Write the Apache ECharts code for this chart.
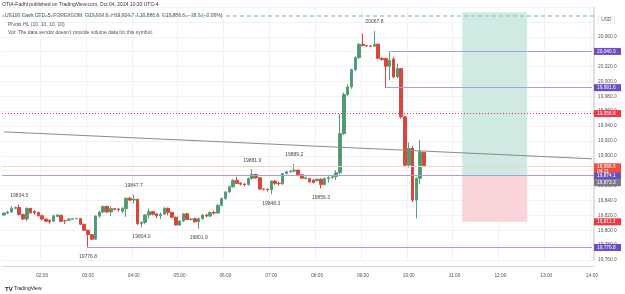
<!DOCTYPE html>
<html>
<head>
<meta charset="utf-8">
<script src="https://cdn.jsdelivr.net/npm/echarts@6/dist/echarts.min.js"></script>
<style>
  html, body { margin: 0; padding: 0; background: #fff; }
  #chart { width: 625px; height: 294px; }
</style>
</head>
<body>
<div id="chart"></div>
<script>
// 5-minute categories, 01:10 .. 14:00
const times = [];
for (let m = 70; m <= 840; m += 5) {
  times.push(String(Math.floor(m / 60)).padStart(2, '0') + ':' + String(m % 60).padStart(2, '0'));
}

// candles from 01:10, [open, close, low, high]
const candles = [
  [19820.5, 19823.0, 19819.0, 19824.5], [19823.0, 19824.5, 19822.0, 19826.0], [19824.5, 19829.5, 19823.5, 19832.0],
  [19829.5, 19830.5, 19828.0, 19832.0], [19830.5, 19821.0, 19820.0, 19834.5], [19821.0, 19815.0, 19814.0, 19822.0],
  [19815.0, 19829.5, 19812.0, 19830.5], [19829.5, 19823.5, 19822.0, 19830.0], [19825.5, 19823.5, 19821.0, 19826.5],
  [19824.0, 19819.5, 19818.0, 19825.0], [19819.5, 19815.0, 19813.0, 19821.0], [19815.0, 19812.0, 19811.0, 19816.0],
  [19813.5, 19811.5, 19809.0, 19814.5], [19812.0, 19819.5, 19811.0, 19820.5], [19818.5, 19820.5, 19817.5, 19822.0],
  [19820.0, 19812.0, 19811.0, 19821.0], [19813.0, 19812.8, 19808.5, 19814.0], [19813.5, 19815.0, 19812.0, 19816.0],
  [19815.0, 19815.5, 19814.0, 19816.5], [19815.5, 19815.8, 19814.5, 19816.5], [19815.5, 19808.0, 19807.0, 19816.5],
  [19808.0, 19800.0, 19799.0, 19808.5], [19800.0, 19794.0, 19776.8, 19801.0], [19794.0, 19788.0, 19787.0, 19795.0],
  [19788.0, 19819.0, 19787.0, 19820.0], [19819.0, 19824.5, 19817.0, 19826.0], [19824.5, 19832.0, 19823.0, 19833.0],
  [19832.0, 19824.5, 19823.0, 19833.0], [19824.5, 19829.0, 19819.0, 19832.0], [19829.0, 19828.0, 19826.5, 19830.0],
  [19828.5, 19827.5, 19825.0, 19829.5], [19825.5, 19829.5, 19823.0, 19831.0], [19829.0, 19843.0, 19818.0, 19844.0],
  [19843.0, 19840.5, 19839.0, 19845.0], [19840.5, 19841.5, 19836.0, 19847.7], [19841.5, 19808.8, 19807.0, 19842.5],
  [19808.8, 19810.5, 19804.0, 19812.0], [19810.5, 19820.5, 19808.0, 19821.5], [19820.5, 19825.0, 19816.0, 19829.0],
  [19825.0, 19821.5, 19820.0, 19826.0], [19822.0, 19819.5, 19816.0, 19823.0], [19819.5, 19821.5, 19815.0, 19824.0],
  [19821.5, 19829.5, 19821.0, 19831.0], [19829.5, 19824.0, 19820.0, 19830.5], [19824.0, 19817.5, 19816.0, 19825.0],
  [19817.5, 19807.0, 19806.0, 19818.5], [19807.0, 19812.5, 19805.5, 19813.0], [19812.5, 19822.0, 19811.0, 19823.0],
  [19822.0, 19814.5, 19813.5, 19823.5], [19814.5, 19815.2, 19813.0, 19816.0], [19815.5, 19811.5, 19810.0, 19817.0],
  [19811.5, 19815.5, 19801.9, 19817.0], [19815.5, 19820.5, 19814.0, 19821.5], [19820.5, 19819.0, 19817.5, 19822.0],
  [19819.0, 19824.0, 19817.5, 19825.5], [19824.0, 19823.0, 19821.0, 19826.5], [19823.0, 19833.5, 19822.0, 19835.0],
  [19833.5, 19842.5, 19832.0, 19844.0], [19842.5, 19851.5, 19841.0, 19852.5], [19851.5, 19858.5, 19850.0, 19860.0],
  [19858.5, 19867.0, 19857.0, 19869.0], [19867.0, 19863.0, 19862.0, 19872.0], [19863.5, 19862.0, 19860.0, 19864.5],
  [19862.0, 19861.5, 19859.0, 19863.0], [19861.5, 19869.5, 19860.0, 19871.0], [19869.5, 19875.0, 19868.0, 19881.9],
  [19875.0, 19870.5, 19869.0, 19876.0], [19870.5, 19855.3, 19854.0, 19871.5], [19855.3, 19855.0, 19853.5, 19856.0],
  [19855.0, 19854.5, 19852.0, 19856.0], [19854.5, 19866.0, 19848.3, 19867.0], [19866.0, 19863.0, 19861.0, 19867.5],
  [19863.0, 19862.5, 19860.0, 19865.0], [19862.5, 19876.3, 19861.0, 19877.0], [19876.3, 19878.5, 19875.0, 19880.0],
  [19878.5, 19879.4, 19877.5, 19881.0], [19879.4, 19880.8, 19878.0, 19889.2], [19880.8, 19874.5, 19873.5, 19881.5],
  [19874.5, 19870.0, 19869.0, 19875.5], [19869.6, 19871.0, 19868.0, 19872.0], [19869.5, 19865.0, 19864.0, 19870.5],
  [19867.4, 19864.2, 19863.0, 19868.5], [19866.5, 19868.7, 19865.5, 19869.5], [19868.7, 19861.5, 19856.3, 19869.5],
  [19861.5, 19869.5, 19860.0, 19871.0], [19869.5, 19871.0, 19864.0, 19872.5], [19871.0, 19872.0, 19869.0, 19873.5],
  [19872.0, 19877.2, 19867.4, 19880.8], [19877.2, 19930.0, 19875.0, 19956.0], [19930.0, 19982.3, 19928.0, 19985.0],
  [19982.3, 19992.6, 19980.0, 19996.0], [19992.6, 20015.9, 19990.0, 20017.0], [20015.9, 20032.0, 20014.0, 20034.0],
  [20032.0, 20050.0, 20030.0, 20051.5], [20050.0, 20048.2, 20047.0, 20064.5], [20048.2, 20047.6, 20046.5, 20049.0],
  [20047.6, 20047.4, 20046.5, 20048.5], [20047.4, 20050.0, 20046.0, 20067.8], [20050.0, 20031.0, 20030.0, 20051.0],
  [20031.0, 20029.3, 20028.0, 20032.5], [20031.0, 20020.5, 19991.6, 20031.5], [20020.5, 20028.4, 20001.6, 20040.3],
  [20030.0, 20006.0, 20004.0, 20033.0], [20006.0, 20017.2, 20004.0, 20024.0], [20017.2, 19952.4, 19950.0, 20018.0],
  [19952.4, 19887.5, 19885.0, 19954.0], [19887.5, 19910.0, 19884.0, 19918.0], [19910.0, 19840.5, 19838.0, 19913.0],
  [19840.5, 19869.6, 19815.9, 19871.0], [19869.6, 19905.4, 19862.0, 19921.0], [19904.6, 19886.6, 19886.6, 19904.7]
];

// Pivots HL labels
const pivotTimes = ['01:30', '04:00', '04:10', '05:25', '06:35', '07:00', '07:30', '08:05', '09:15', '03:00'];
const pivotValues = [19834.5, 19847.7, 19804.0, 19801.9, 19881.9, 19848.3, 19889.2, 19856.3, 20067.8, 19776.8];
const pivotSides = ['high', 'high', 'low', 'low', 'high', 'low', 'high', 'low', 'high', 'low'];

// drawn levels
const entryPrice = 19874.1;
const stopPrice = 19811.3;
const targetPrice = 20093;
const positionTimes = ['11:10', '12:35'];
const rayLevels = [20040.3, 19991.6, 19776.8];
const rayStarts = ['09:35', '09:30', '03:00'];
const alertPrice = 19956.8;
const lastPrice = 19886.6;
const targetDashPrice = 20088;
const trendTimes = ['01:10', '14:00'];
const trendValues = [19932.2, 19896.0];

// price scale tags
const tagValues = [20040.3, 19991.6, 19956.8, 19886.6, 19874.1, 19873.3, 19811.3, 19776.8];
const tagTexts = ['20,040.3', '19,991.6', '19,956.8', '19,886.6\n04:21', '19,874.1', '19,873.3', '19,811.3', '19,776.8'];
const tagColors = ['#6a4fc3', '#6a4fc3', '#f23645', '#ec4f3f', '#6a4fc3', '#787b86', '#f23645', '#6a4fc3'];
const tagNudge = [0, 0, 0, 2, 1, 7, 0, 0];

const FONT = 'Liberation Sans';
const hourTick = (i, v) => v.endsWith(':00');
const purple = '#a99de0';

const chart = echarts.init(document.getElementById('chart'));

chart.setOption({
  animation: false,
  backgroundColor: '#fff',
  textStyle: { fontFamily: FONT },
  grid: { left: 2, right: 31, top: 7, bottom: 34 },
  xAxis: {
    type: 'category',
    data: times,
    boundaryGap: true,
    offset: 6,
    axisLine: { lineStyle: { color: '#d6d8de' } },
    axisTick: { show: false },
    axisLabel: { interval: hourTick, color: '#555', fontSize: 4.8, margin: 7, fontFamily: FONT },
    splitLine: { show: true, interval: hourTick, lineStyle: { color: '#f1f2f5' } }
  },
  yAxis: {
    type: 'value',
    position: 'right',
    min: 19760,
    max: 20100,
    interval: 20,
    axisLine: { show: true, lineStyle: { color: '#d6d8de', width: 1.5 } },
    axisTick: { show: false },
    axisLabel: {
      color: '#555', fontSize: 4.8, margin: 4, fontFamily: FONT,
      formatter: v => v >= 20080 ? '' : v.toLocaleString('en-US', { minimumFractionDigits: 1, maximumFractionDigits: 1 })
    },
    splitLine: { lineStyle: { color: '#f1f2f5' } }
  },
  series: [{
    type: 'candlestick',
    data: candles,
    barWidth: 3,
    itemStyle: {
      color: '#4d9a6f', color0: '#d9473a',
      borderColor: '#5a9f78', borderColor0: '#d9473a', borderWidth: 1
    },
    markArea: {
      silent: true,
      data: [
        [{ xAxis: positionTimes[0], yAxis: entryPrice, itemStyle: { color: '#cfe9e3' } },
         { xAxis: positionTimes[1], yAxis: targetPrice }],
        [{ xAxis: positionTimes[0], yAxis: stopPrice, itemStyle: { color: '#f9d5d9' } },
         { xAxis: positionTimes[1], yAxis: entryPrice }]
      ]
    },
    markLine: {
      silent: true,
      symbol: ['none', 'none'],
      label: { show: false },
      data: [
        { yAxis: targetDashPrice, lineStyle: { color: '#93d2c6', type: [4, 3], width: 1.5 } },
        { yAxis: lastPrice, lineStyle: { color: '#f6cfcf', type: 'solid', width: 1 } },
        { yAxis: alertPrice, lineStyle: { color: '#f23645', type: [1, 2], width: 1 } },
        { yAxis: entryPrice, lineStyle: { color: purple, type: 'solid', width: 1 } },
        [{ coord: [trendTimes[0], trendValues[0]], lineStyle: { color: '#8a8a8f', type: 'solid', width: 1 } },
         { coord: [trendTimes[1], trendValues[1]] }],
        ...rayLevels.map((v, k) => [
          { coord: [rayStarts[k], v], lineStyle: { color: purple, type: 'solid', width: 1 } },
          { coord: ['14:00', v] }
        ])
      ]
    },
    markPoint: {
      silent: true,
      symbol: 'circle',
      symbolSize: 1,
      itemStyle: { color: 'rgba(0,0,0,0)' },
      data: pivotTimes.map((t, k) => ({
        coord: [t, pivotValues[k]],
        value: pivotValues[k].toFixed(1),
        label: {
          show: true,
          position: pivotSides[k] === 'high' ? 'top' : 'bottom',
          distance: 6,
          color: '#4a4a4a',
          fontSize: 5,
          fontFamily: FONT,
          formatter: p => p.value
        }
      }))
    }
  }]
});

// header, logo and price-scale tags
const graphics = [
  { type: 'text', left: 2, top: 2, style: { text: 'OTIA-Fadhl published on TradingView.com, Oct 04, 2024 10:20 UTC-4', fill: '#333', font: '5px ' + FONT } },
  { type: 'text', left: 3, top: 13, style: { text: 'US100 Cash CFD, 5, FOREXCOM  O19,904.6  H19,904.7  L19,886.6  C19,886.6  \u221218.0 (\u22120.09%)', fill: '#444', font: '5px ' + FONT, backgroundColor: '#fff', padding: [0, 2] } },
  { type: 'text', left: 8, top: 22.5, style: { text: 'Pivots HL (10, 10, 10, 10)', fill: '#555', font: '5px ' + FONT } },
  { type: 'text', left: 8, top: 30.5, style: { text: 'Vol: The data vendor doesn\'t provide volume data for this symbol.', fill: '#555', font: '5px ' + FONT } },
  { type: 'text', left: 598, top: 16, style: { text: 'USD', fill: '#555', font: '4.8px ' + FONT, borderColor: '#dfe1e6', borderWidth: 0.6, padding: [1, 3] } },
  { type: 'text', left: 5, top: 286, style: { text: 'TV', fill: '#131722', font: 'bold 6px ' + FONT } },
  { type: 'text', left: 14, top: 286.5, style: { text: 'TradingView', fill: '#131722', font: '5px ' + FONT } }
];

tagValues.forEach((v, k) => {
  const y = chart.convertToPixel({ yAxisIndex: 0 }, v) + tagNudge[k];
  const twoLines = tagTexts[k].indexOf('\n') >= 0;
  const h = twoLines ? 11 : 7;
  const top = twoLines ? y - 4.5 : y - h / 2;
  graphics.push({ type: 'rect', shape: { x: 594, y: top, width: 27, height: h }, style: { fill: tagColors[k] }, z: 100 });
  graphics.push({
    type: 'text', x: 597, y: top + 1, z: 101,
    style: { text: tagTexts[k], fill: '#fff', font: '4.8px ' + FONT, lineHeight: 5 }
  });
});

chart.setOption({ graphic: graphics });
</script>
</body>
</html>
